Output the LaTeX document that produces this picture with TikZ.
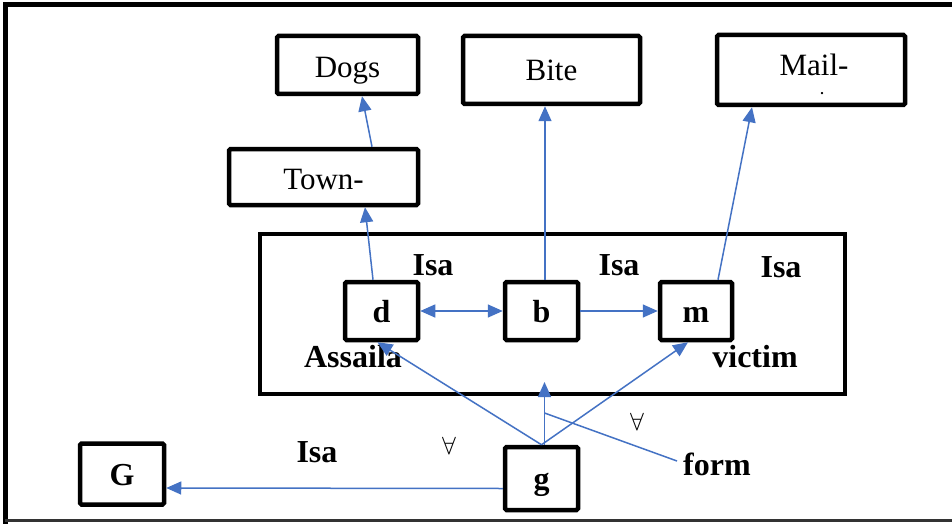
\documentclass[tikz,border=0pt]{standalone}
\usepackage{fontspec}
\setmainfont{Liberation Serif}
\usetikzlibrary{arrows.meta,calc}
\definecolor{arrblue}{RGB}{68,114,196}
\begin{document}
\begin{tikzpicture}[x=1pt,y=-1pt,
  bx/.style={draw=black,line width=4.5pt,rounded corners=1.5pt,inner sep=0pt,fill=white},
  word/.style={font=\fontsize{31}{34}\selectfont},
  bld/.style={font=\fontsize{32}{35}\selectfont\bfseries,inner sep=0pt},
  bltx/.style={text height=22pt,text depth=0pt},
  con/.style={draw=arrblue,line width=1.5pt,-{Triangle[length=15pt,width=13pt]}},
  conb/.style={draw=arrblue,line width=1.5pt,{Triangle[length=15pt,width=13pt]}-{Triangle[length=15pt,width=13pt]}},
  plain/.style={draw=arrblue,line width=1.5pt}]
\useasboundingbox (0,0) rectangle (952,524);
\fill[white] (0,0) rectangle (952,524);
% outer frame
\draw[line width=5pt,black] (5,524) -- (5,4.5) -- (952,4.5);
\draw[line width=3pt,black!80] (5,520.5) -- (952,520.5);
% big rectangle
\node[bx,line width=4pt,rounded corners=0pt,fill=none,minimum width=585pt,minimum height=160pt] (big) at (552.5,314) {};
% top boxes
\node[bx,word,text height=26pt,text depth=0pt,minimum width=141pt,minimum height=58pt] (dogs) at (347.5,65) {Dogs};
\node[bx,word,text height=24pt,text depth=0pt,minimum width=189pt,minimum height=56pt] (town) at (323.5,177) {Town-};
\node[bx,word,text height=22pt,text depth=0pt,minimum width=177pt,minimum height=68pt] (bite) at (551.5,70) {Bite};
\node[bx,minimum width=188pt,minimum height=70pt] (mail) at (811,70) {};
\node[word,inner sep=0pt,anchor=base] (mailt) at (814,76) {Mail-};
\node[inner sep=0pt,font=\fontsize{14}{14}\selectfont\bfseries] (maild) at (822,94) {.};
% inner boxes
\node[bx,bld,bltx,minimum width=73pt,minimum height=58pt] (d) at (381.5,311) {d};
\node[bx,bld,bltx,minimum width=73pt,minimum height=58pt] (b) at (541.5,311) {b};
\node[bx,bld,bltx,minimum width=72pt,minimum height=58pt] (m) at (696,311) {m};
\node[bx,bld,bltx,minimum width=84pt,minimum height=61pt] (G) at (122,474) {G};
\node[bx,bld,bltx,minimum width=73pt,minimum height=63pt] (g) at (541.5,478.5) {g};
% labels
\node[bld] (isa1) at (433,265) {Isa};
\node[bld] (isa2) at (619,265) {Isa};
\node[bld] (isa3) at (781,267) {Isa};
\node[bld] (assaila) at (353,357) {Assaila};
\node[bld] (victim) at (755,357) {victim};
\node[bld] (isa4) at (317,452) {Isa};
\node[bld,anchor=west] (form) at (683,464) {form};
\node[inner sep=0pt,font=\fontsize{24}{24}\selectfont] (fa1) at (449,446) {$\forall$};
\node[inner sep=0pt,font=\fontsize{24}{24}\selectfont] (fa2) at (637,422) {$\forall$};
\coordinate (up) at (544.5,382);
\coordinate (fj) at (544.5,413);
% connectors
\draw[con] ($(d.north)+(-8.5,0)$) -- ($(town.south)+(41.5,0)$);
\draw[con] ($(town.north)+(48.5,0)$) -- ($(dogs.south)+(14.5,0)$);
\draw[con] ($(b.north)+(3.5,0)$) -- ($(bite.south)+(-6.5,0)$);
\draw[con] ($(m.north)+(22,0)$) -- ($(mail.south)+(-59,0)$);
\draw[conb] (d.east) -- (b.west);
\draw[con] (b.east) -- (m.west);
\draw[con] (g.north) -- ($(d.south)+(-4,0)$);
\draw[con] (g.north) -- ($(m.south)+(-8,0)$);
\draw[con] ($(g.north)+(3,0)$) -- (up);
\draw[plain] (fj) -- ($(form.west)+(-6,-3)$);
\draw[con] ($(g.west)+(0,10)$) -- ($(G.east)+(0,14)$);
\end{tikzpicture}
\end{document}
